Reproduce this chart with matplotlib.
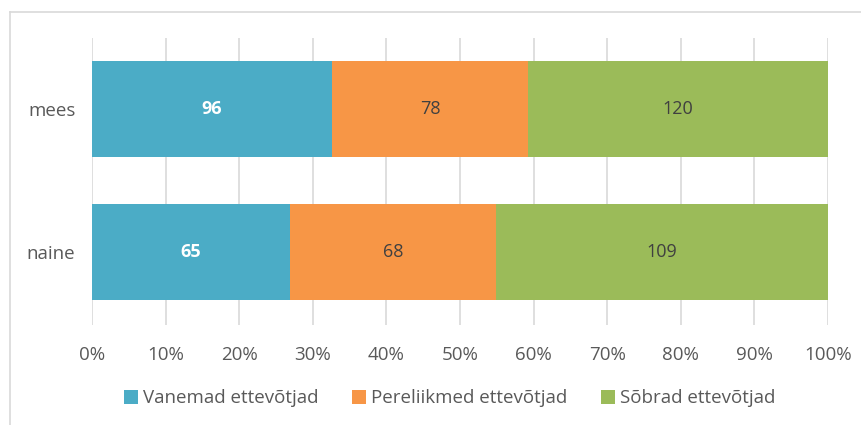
import matplotlib.pyplot as plt
from matplotlib.lines import Line2D
from matplotlib.ticker import PercentFormatter

categories = ["naine", "mees"]
series_names = ["Vanemad ettevõtjad", "Pereliikmed ettevõtjad", "Sõbrad ettevõtjad"]
vanemad = [65, 96]
pereliikmed = [68, 78]
sobrad = [109, 120]
colors = ["#4BACC6", "#F79646", "#9BBB59"]
label_colors = ["white", "#404040", "#404040"]

plt.rcParams["font.family"] = ["Open Sans", "DejaVu Sans"]

series = [vanemad, pereliikmed, sobrad]
totals = [sum(v) for v in zip(*series)]

fig = plt.figure(figsize=(8.62, 4.25), dpi=100)
ax = fig.add_axes([92 / 862, 1 - 325 / 425, (828 - 92) / 862, (325 - 38) / 425])

left = [0.0, 0.0]
for name, vals, c, lc in zip(series_names, series, colors, label_colors):
    shares = [v / t * 100 for v, t in zip(vals, totals)]
    bars = ax.barh(categories, shares, left=left, height=0.67, color=c, label=name, zorder=2)
    labels = ax.bar_label(bars, labels=[str(v) for v in vals], label_type="center",
                          color=lc, fontsize=13)
    if lc == "white":
        for t in labels:
            t.set_fontweight("bold")
    left = [l + s for l, s in zip(left, shares)]

ax.set_xlim(0, 100)
ax.set_ylim(-0.51, 1.497)
ax.set_xticks(range(0, 101, 10))
ax.xaxis.set_major_formatter(PercentFormatter(decimals=0))
ax.grid(axis="x", color="#D9D9D9", linewidth=1.2, zorder=0)
for s in ax.spines.values():
    s.set_visible(False)
ax.tick_params(axis="both", length=0, labelsize=13.5, labelcolor="#595959")
ax.tick_params(axis="x", pad=15)
ax.tick_params(axis="y", pad=12)

ax.legend(loc="center", bbox_to_anchor=(0.486, -0.255), ncol=3, frameon=False,
          fontsize=13.5, labelcolor="#595959", handlelength=0.75, handleheight=0.75,
          handletextpad=0.25, columnspacing=1.8)

fig.add_artist(Line2D([10 / 862, 10 / 862], [0, 1 - 12 / 425], transform=fig.transFigure,
                      color="#D9D9D9", linewidth=1.2))
fig.add_artist(Line2D([10 / 862, 1], [1 - 12 / 425, 1 - 12 / 425], transform=fig.transFigure,
                      color="#D9D9D9", linewidth=1.2))

fig.savefig("out.png", dpi=100)
